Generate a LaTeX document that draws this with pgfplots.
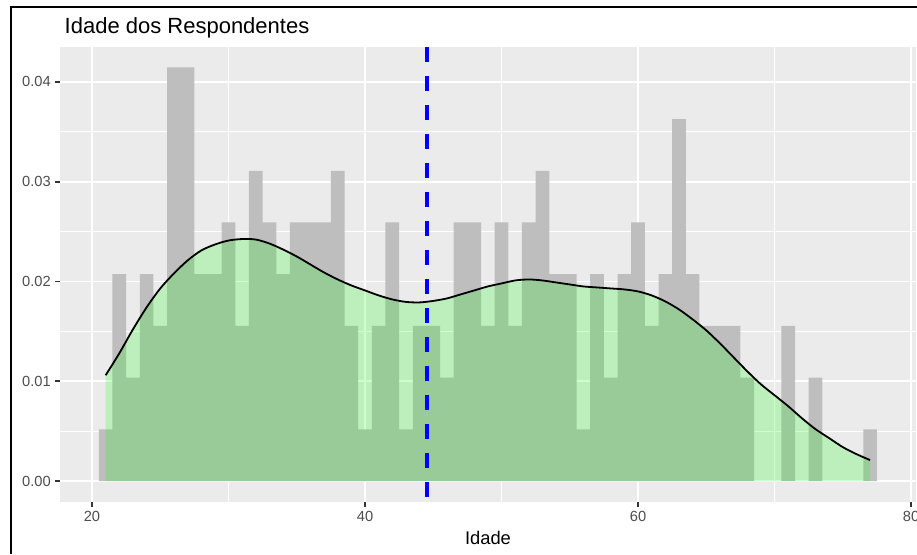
\documentclass[border=0pt]{standalone}
\usepackage{pgfplots}
\pgfplotsset{compat=1.18}
\usepackage{pgfplotstable}
\usepackage{fontspec}
\setmainfont{Liberation Sans}
\definecolor{panelbg}{HTML}{EBEBEB}
\definecolor{bargray}{HTML}{BEBEBE}
\definecolor{grey20}{HTML}{333333}
\definecolor{grey30}{HTML}{4D4D4D}
\definecolor{densgreen}{HTML}{00FF00}

% histogram: left bin edge, density (binwidth 1)
\pgfplotstableread{
edge dens
20.5 0.00518
21.5 0.02073
22.5 0.01036
23.5 0.02073
24.5 0.01554
25.5 0.04145
26.5 0.04145
27.5 0.02073
28.5 0.02073
29.5 0.02591
30.5 0.01554
31.5 0.03109
32.5 0.02591
33.5 0.02073
34.5 0.02591
35.5 0.02591
36.5 0.02591
37.5 0.03109
38.5 0.01554
39.5 0.00518
40.5 0.01554
41.5 0.02591
42.5 0.00518
43.5 0.01554
44.5 0.01554
45.5 0.01036
46.5 0.02591
47.5 0.02591
48.5 0.01554
49.5 0.02591
50.5 0.01554
51.5 0.02591
52.5 0.03109
53.5 0.02073
54.5 0.02073
55.5 0.00518
56.5 0.02073
57.5 0.01036
58.5 0.02073
59.5 0.02591
60.5 0.01554
61.5 0.02073
62.5 0.03627
63.5 0.02073
64.5 0.01554
65.5 0.01554
66.5 0.01554
67.5 0.01036
68.5 0
69.5 0
70.5 0.01554
71.5 0
72.5 0.01036
73.5 0
74.5 0
75.5 0
76.5 0.00518
77.5 0.00518
}\histtable

% kernel density estimate
\pgfplotstableread{
x y
21.0 0.0106
22.0 0.0128
23.0 0.0152
24.0 0.0174
25.0 0.0193
26.0 0.0208
27.0 0.0221
28.0 0.0231
29.0 0.0237
30.0 0.0241
31.0 0.02425
32.0 0.0242
33.0 0.0238
34.0 0.0232
35.0 0.0225
36.0 0.0217
37.0 0.0209
38.0 0.0202
39.0 0.0196
40.0 0.0191
41.0 0.0186
42.0 0.0182
43.0 0.01795
44.0 0.0179
45.0 0.01805
46.0 0.0183
47.0 0.0187
48.0 0.0191
49.0 0.0195
50.0 0.0198
51.0 0.0201
52.0 0.0202
53.0 0.0201
54.0 0.0199
55.0 0.0197
56.0 0.0195
57.0 0.0194
58.0 0.0193
59.0 0.0192
60.0 0.0190
61.0 0.0186
62.0 0.0180
63.0 0.0172
64.0 0.0162
65.0 0.0151
66.0 0.0138
67.0 0.0124
68.0 0.0110
69.0 0.0097
70.0 0.0086
71.0 0.0075
72.0 0.0063
73.0 0.0052
74.0 0.0043
75.0 0.0034
76.0 0.0027
77.0 0.0021
}\denstable

\begin{document}
\begin{tikzpicture}[x=0.75pt,y=0.75pt]
\useasboundingbox (0,0) rectangle (917,554);
\fill[white] (0,0) rectangle (917,554);
\begin{axis}[
  at={(45pt,39pt)}, anchor=south west,
  scale only axis,
  width=641.85pt, height=341.3pt,
  xmin=17.656, xmax=80.35,
  ymin=-0.0021, ymax=0.0435,
  axis background/.style={fill=panelbg},
  axis line style={draw=none},
  xtick={20,40,60,80},
  minor xtick={30,50,70},
  ytick={0,0.01,0.02,0.03,0.04},
  minor ytick={0.005,0.015,0.025,0.035},
  scaled y ticks=false,
  yticklabel style={/pgf/number format/.cd, fixed, fixed zerofill, precision=2},
  /pgf/number format/assume math mode=true,
  grid=both,
  major grid style={white, line width=1.33pt},
  minor grid style={white, line width=0.67pt},
  tick align=outside,
  tick pos=left,
  major tick length=3.44pt,
  minor tick length=0pt,
  major tick style={grey20, line width=1.33pt},
  tick label style={font=\fontsize{11}{13}\selectfont, text=grey30},
  clip=true,
]
\addplot[const plot, fill=bargray, draw=none] table[x=edge, y=dens] {\histtable} \closedcycle;
\addplot[smooth, tension=0.5, fill=densgreen, fill opacity=0.2, draw=none] table[x=x, y=y] {\denstable} \closedcycle;
\addplot[smooth, tension=0.5, black, line width=1.35pt] table[x=x, y=y] {\denstable};
\addplot[blue, line width=2.75pt, dash pattern=on 11.25pt off 10.5pt] coordinates {(44.55,0.0435) (44.55,-0.0021)};
\end{axis}
\node[anchor=base west, font=\fontsize{16.5}{19}\selectfont] at (60,520) {Idade dos Respondentes};
\node[anchor=base, font=\fontsize{13.75}{16}\selectfont] at (488,10) {Idade};
\draw[black, line width=1.5pt] (11,0) -- (11,547) -- (917,547);
\end{tikzpicture}
\end{document}
